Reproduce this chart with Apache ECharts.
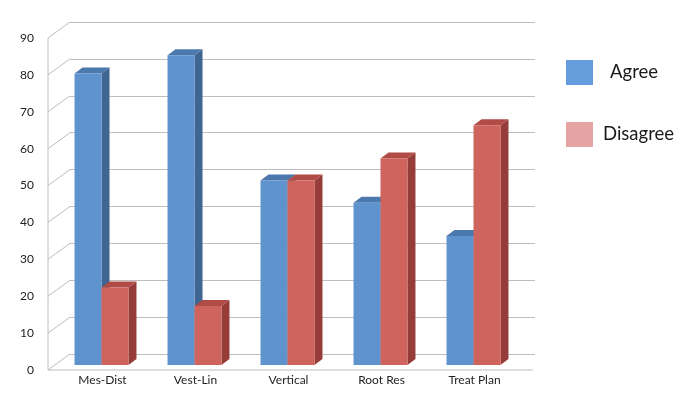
<!DOCTYPE html>
<html>
<head>
<meta charset="utf-8">
<script src="https://cdn.jsdelivr.net/npm/echarts@6/dist/echarts.min.js"></script>
<style>html,body{margin:0;padding:0;background:#fff}#c{width:700px;height:400px}</style>
</head>
<body>
<div id="c"></div>
<script>
const categories = ['Mes-Dist', 'Vest-Lin', 'Vertical', 'Root Res', 'Treat Plan'];
const agree = [79, 84, 50, 44, 35];
const disagree = [21, 16, 50, 56, 65];
const yTicks = [0, 10, 20, 30, 40, 50, 60, 70, 80, 90];

const FRONT = [-15, 11];   // bar front face shift from back wall
const DEPTH = [8, -6];     // bar depth
const WALL = [-22, 16];    // front axis shift from back wall
const GRID_COLOR = '#bdbdbd';

function barRenderer(side, cFront, cSide, cTop) {
  return function (params, api) {
    const idx = api.value(0), v = api.value(1);
    const base = api.coord([idx, 0]);
    const top = api.coord([idx, v]);
    const band = api.size([1, 0])[0];
    const w = band * 0.29;
    const x1 = base[0] + (side === 0 ? -w : 0) + FRONT[0];
    const by = base[1] + FRONT[1];
    const ty = top[1] + FRONT[1];
    const dx = DEPTH[0], dy = DEPTH[1];
    return {
      type: 'group',
      children: [
        { type: 'polygon', shape: { points: [[x1 + w, ty], [x1 + w + dx, ty + dy], [x1 + w + dx, by + dy], [x1 + w, by]] }, style: { fill: cSide } },
        { type: 'polygon', shape: { points: [[x1, ty], [x1 + w, ty], [x1 + w + dx, ty + dy], [x1 + dx, ty + dy]] }, style: { fill: cTop } },
        { type: 'rect', shape: { x: x1, y: ty, width: w, height: by - ty }, style: { fill: cFront } }
      ]
    };
  };
}

function frameRenderer(params, api) {
  const v = api.value(1);
  const cs = params.coordSys;
  const p = api.coord([0, v]);
  const x0 = cs.x;
  const children = [
    { type: 'line', shape: { x1: x0 + WALL[0], y1: p[1] + WALL[1], x2: x0, y2: p[1] }, style: { stroke: GRID_COLOR, lineWidth: 1 } },
    { type: 'text', x: x0 + WALL[0] - 14, y: p[1] + WALL[1], style: { text: String(v), fill: '#222', font: '12px Lato', align: 'right', verticalAlign: 'middle' } }
  ];
  if (params.dataIndex === 0) {
    const yb = api.coord([0, yTicks[0]])[1] + WALL[1];
    const yt = api.coord([0, yTicks[yTicks.length - 1]])[1] + WALL[1];
    children.push({ type: 'line', shape: { x1: x0 + WALL[0], y1: yb, x2: x0 + WALL[0], y2: yt }, style: { stroke: GRID_COLOR, lineWidth: 1 } });
    children.push({ type: 'line', shape: { x1: x0 + WALL[0], y1: yb, x2: cs.x + cs.width - 2, y2: yb }, style: { stroke: GRID_COLOR, lineWidth: 1 } });
  }
  return { type: 'group', children: children };
}

const chart = echarts.init(document.getElementById('c'));
chart.setOption({
  animation: false,
  backgroundColor: '#fff',
  textStyle: { fontFamily: 'Lato' },
  grid: { left: 70, right: 165, top: 22, bottom: 46 },
  legend: {
    orient: 'vertical',
    left: 566,
    top: 60,
    padding: 0,
    itemWidth: 27,
    itemHeight: 25,
    itemGap: 37,
    icon: 'rect',
    selectedMode: false,
    textStyle: { fontFamily: 'Lato', fontSize: 18.5, color: '#1a1a1a', padding: [0, 0, 0, 5] },
    data: [
      { name: 'Agree', itemStyle: { color: '#659cdc' }, textStyle: { padding: [0, 0, 0, 12] } },
      { name: 'Disagree', itemStyle: { color: '#e5a4a3' } }
    ]
  },
  xAxis: {
    type: 'category',
    data: categories,
    axisLine: { show: false },
    axisTick: { show: false },
    axisLabel: { margin: 20, fontSize: 12, color: '#222', fontFamily: 'Lato', padding: [0, 28, 0, 0] }
  },
  yAxis: {
    type: 'value',
    min: 0,
    max: 90,
    interval: 10,
    axisLine: { show: false },
    axisTick: { show: false },
    axisLabel: { show: false },
    splitLine: { lineStyle: { color: GRID_COLOR, width: 1 } }
  },
  series: [
    {
      type: 'custom', name: 'frame', silent: true, z: 1,
      renderItem: frameRenderer,
      data: yTicks.map(v => [0, v])
    },
    {
      type: 'custom', name: 'Agree', z: 2,
      itemStyle: { color: '#659cdc' },
      renderItem: barRenderer(0, '#5e93cd', '#3f6592', '#4b78ad'),
      data: agree.map((v, i) => [i, v])
    },
    {
      type: 'custom', name: 'Disagree', z: 3,
      itemStyle: { color: '#e5a4a3' },
      renderItem: barRenderer(1, '#cf635d', '#963d39', '#b14b46'),
      data: disagree.map((v, i) => [i, v])
    }
  ]
});
</script>
</body>
</html>
